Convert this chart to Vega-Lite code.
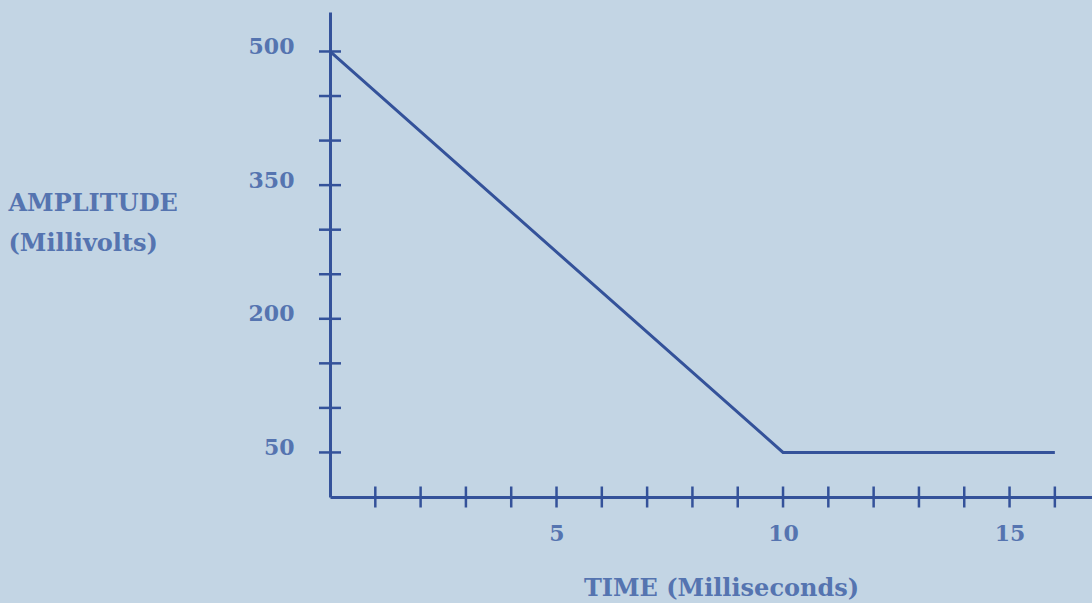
{
  "$schema": "https://vega.github.io/schema/vega-lite/v6.json",
  "autosize": "none",
  "padding": {"left": 330, "top": 12, "right": 0, "bottom": 106},
  "width": 762,
  "height": 485,
  "background": "#c3d5e4",
  "config": {
    "view": {"stroke": null},
    "font": "DejaVu Serif",
    "axis": {
      "grid": false,
      "domainColor": "#34529a",
      "domainWidth": 3,
      "ticks": false,
      "labelColor": "#5574b0",
      "labelFont": "DejaVu Serif",
      "labelFontWeight": "bold",
      "titleColor": "#5574b0",
      "titleFont": "DejaVu Serif",
      "titleFontWeight": "bold"
    }
  },
  "datasets": {
    "curve": [
      {"time": 0, "amp": 500},
      {"time": 10, "amp": 50},
      {"time": 16, "amp": 50}
    ],
    "xticks": [
      {"t": 1}, {"t": 2}, {"t": 3}, {"t": 4}, {"t": 5}, {"t": 6}, {"t": 7}, {"t": 8},
      {"t": 9}, {"t": 10}, {"t": 11}, {"t": 12}, {"t": 13}, {"t": 14}, {"t": 15}, {"t": 16}
    ],
    "yticks": [
      {"v": 50}, {"v": 100}, {"v": 150}, {"v": 200}, {"v": 250},
      {"v": 300}, {"v": 350}, {"v": 400}, {"v": 450}, {"v": 500}
    ]
  },
  "layer": [
    {
      "data": {"name": "curve"},
      "mark": {"type": "line", "color": "#34529a", "strokeWidth": 3},
      "encoding": {
        "x": {
          "field": "time", "type": "quantitative",
          "scale": {"domain": [0, 16.82], "nice": false, "zero": false},
          "axis": {
            "values": [5, 10, 15],
            "labelFontSize": 22,
            "labelPadding": 26,
            "title": "TIME (Milliseconds)",
            "titleFontSize": 24,
            "titlePadding": 32,
            "titleX": 391,
            "titleAlign": "center"
          }
        },
        "y": {
          "field": "amp", "type": "quantitative",
          "scale": {"domain": [0, 544.3], "nice": false},
          "axis": {
            "values": [50, 200, 350, 500],
            "labelFontSize": 22,
            "labelPadding": 36,
            "labelOffset": -5,
            "title": ["AMPLITUDE", "(Millivolts)"],
            "titleFontSize": 24,
            "titleAngle": 0,
            "titleAlign": "left",
            "titleBaseline": "middle",
            "titleLineHeight": 40,
            "titleX": -322,
            "titleY": 191
          }
        }
      }
    },
    {
      "data": {"name": "xticks"},
      "mark": {"type": "tick", "color": "#34529a", "opacity": 1, "orient": "vertical", "size": 21, "thickness": 2.5},
      "encoding": {
        "x": {"field": "t", "type": "quantitative"},
        "y": {"datum": 0, "type": "quantitative"}
      }
    },
    {
      "data": {"name": "yticks"},
      "mark": {"type": "tick", "color": "#34529a", "opacity": 1, "orient": "horizontal", "size": 22, "thickness": 2.5},
      "encoding": {
        "y": {"field": "v", "type": "quantitative"},
        "x": {"datum": 0, "type": "quantitative"}
      }
    }
  ]
}
